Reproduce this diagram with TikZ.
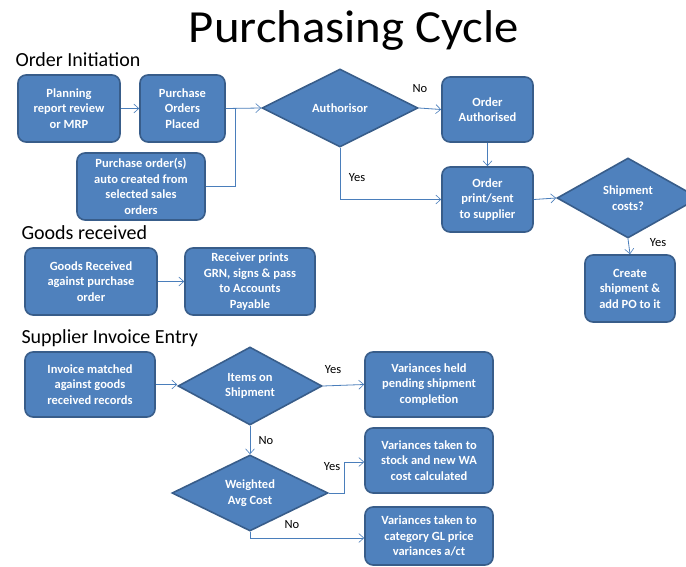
\documentclass[tikz,border=0pt]{standalone}
\usepackage{fontspec}
\setmainfont{Carlito}
\usetikzlibrary{shapes.geometric,arrows.meta}
\definecolor{boxfill}{HTML}{4F81BD}
\definecolor{boxline}{HTML}{385D8A}
\definecolor{conn}{HTML}{4A7EBB}
\tikzset{
  pbox/.style={draw=boxline, line width=1.6pt, fill=boxfill, rounded corners=8pt,
    text=white, font=\bfseries\fontsize{12.5}{15.5}\selectfont, align=center,
    inner sep=0pt},
  pdia/.style={diamond, draw=boxline, line width=1.6pt, fill=boxfill, text=white,
    font=\bfseries\fontsize{12.5}{15.5}\selectfont, align=center, inner sep=0pt, aspect=2},
  conn/.style={draw=conn, line width=0.8pt, -{Straight Barb[length=5pt,width=9pt,line width=0.6pt]}},
  plain/.style={draw=conn, line width=0.8pt},
  lbl/.style={font=\fontsize{12.5}{14}\selectfont, text=black},
  head/.style={font=\fontsize{20}{22}\selectfont, anchor=west, text=black}
}
\newcommand{\boxat}[6]{% name, x1, y1, x2, y2, text
  \node[pbox, minimum width={(#4-#2)*1pt}, minimum height={(#5-#3)*1pt}] (#1) at ({(#2+#4)/2},{(#3+#5)/2}) {#6};}
\newcommand{\diaat}[6]{% name, cx, cy, halfw, halfh, text
  \node[pdia, minimum width={2*#4*1pt}, minimum height={2*#5*1pt}] (#1) at (#2,#3) {#6};}
\begin{document}
\begin{tikzpicture}[x=1pt,y=-1pt]
\useasboundingbox[fill=white] (0,0) rectangle (686,567);
\node[font=\fontsize{46}{48}\selectfont, transform shape, xscale=1.06] (title) at (354,30) {Purchasing Cycle};
\node[head] (h1) at (12,60) {Order Initiation};
\node[head] (h2) at (18,233) {Goods received};
\node[head] (h3) at (18,338) {Supplier Invoice Entry};

% Order initiation
\boxat{plan}{18}{75}{120}{142}{Planning\\report review\\or MRP}
\boxat{pop}{140}{75}{225}{142}{Purchase\\Orders\\Placed}
\boxat{auto}{77}{153}{205}{220}{Purchase order(s)\\auto created from\\selected sales\\orders}
\diaat{auth}{340}{108}{78}{39}{Authorisor}
\boxat{oauth}{442}{77}{533}{142}{Order\\Authorised}
\boxat{oprint}{442}{167}{533}{232}{Order\\print/sent\\to supplier}
\diaat{ship}{628}{198}{71}{40}{Shipment\\costs?}
\boxat{create}{585}{255}{675}{322}{Create\\shipment \&\\add PO to it}

\coordinate (j1) at (235,108);
\draw[conn] (plan.east) -- (pop.west);
\draw[conn] (pop.east) -- (auth.west);
\draw[plain] (auto.east) -| (j1);
\draw[conn] (auth.east) -- (oauth.west);
\node[lbl] (lno1) at (420,89) {No};
\draw[conn] (oauth.south) -- (oprint.north);
\draw[conn] (auth.south) |- (oprint.west);
\node[lbl] (lyes1) at (357,178) {Yes};
\draw[conn] (oprint.east) -- (ship.west);
\draw[conn] (ship.south) -- (create.north);
\node[lbl] (lyes2) at (658,243) {Yes};

% Goods received
\boxat{gr}{25}{248}{157}{315}{Goods Received\\against purchase\\order}
\boxat{grn}{185}{248}{315}{315}{Receiver prints\\GRN, signs \& pass\\to Accounts\\Payable}
\draw[conn] (gr.east) -- (grn.west);

% Supplier invoice entry
\boxat{inv}{25}{352}{155}{417}{Invoice matched\\against goods\\received records}
\diaat{items}{250}{386}{72}{39}{Items on\\Shipment}
\boxat{held}{365}{352}{493}{417}{Variances  held\\pending shipment\\completion}
\diaat{wac}{250}{493}{78}{38}{Weighted\\Avg Cost}
\boxat{stock}{365}{428}{493}{493}{Variances taken to\\stock and new WA\\cost calculated}
\boxat{gl}{365}{507}{493}{565}{Variances taken to\\category GL price\\variances a/ct}

\draw[conn] (inv.east) -- (inv.east -| items.west);
\draw[conn] (items.east) -- (held.west);
\node[lbl] (lyes3) at (333,370) {Yes};
\draw[conn] (items.south) -- (wac.north);
\node[lbl] (lno2) at (266,441) {No};
\coordinate (j2) at (344,493);
\coordinate (j3) at (344,462);
\draw[conn] (wac.east) -- (j2) -- (j3) -- (j3 -| stock.west);
\node[lbl] (lyes4) at (332,467) {Yes};
\coordinate (j4) at (250,538);
\draw[conn] (wac.south) -- (j4) -- (j4 -| gl.west);
\node[lbl] (lno3) at (292,525) {No};
\end{tikzpicture}
\end{document}
